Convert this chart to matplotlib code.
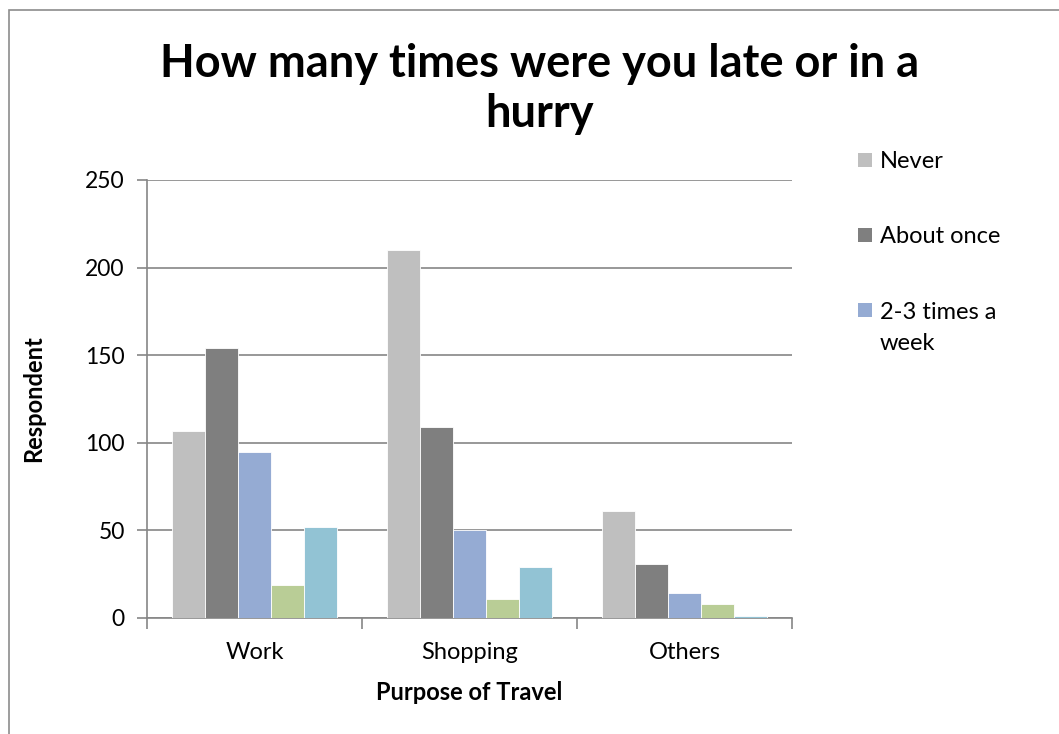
import matplotlib.pyplot as plt
from matplotlib.patches import Rectangle
import numpy as np

plt.rcParams['font.family'] = ['Lato', 'DejaVu Sans']

categories = ["Work", "Shopping", "Others"]
never = [107, 210, 61]
about_once = [154, 109, 31]
two_three_week = [95, 50, 14]
series_4 = [19, 11, 8]
series_5 = [52, 29, 1]

series = [never, about_once, two_three_week, series_4, series_5]
colors = ["#bfbfbf", "#7f7f7f", "#95abd3", "#b9cd96", "#92c3d4"]
legend_labels = ["Never", "About once", "2-3 times a\nweek"]

W, H = 1059, 734
fig = plt.figure(figsize=(W / 100, H / 100), dpi=100)
ax = fig.add_axes([147 / W, 1 - 618 / H, 645 / W, 438 / H])

# chart border (only top and left visible, rest is cropped)
fig.patches.append(Rectangle((9 / W, -0.1), 1.2, 1 - 10 / H + 0.1,
                             transform=fig.transFigure, fill=False,
                             edgecolor="#8c8c8c", linewidth=1.2))

x = np.arange(len(categories))
width = 0.154
for i, vals in enumerate(series):
    ax.bar(x + (i - 2) * width, vals, width, color=colors[i],
           edgecolor="white", linewidth=0.6, zorder=3)

ax.set_xlim(-0.5, 2.5)
ax.set_ylim(0, 250)
ax.set_yticks(range(0, 251, 50))
ax.grid(axis="y", color="#868686", linewidth=1.2, zorder=0)

ax.set_xticks(x)
ax.set_xticklabels(categories, fontsize=17)
ax.set_xticks([-0.5, 0.5, 1.5, 2.5], minor=True)
ax.tick_params(axis="x", which="major", length=0, pad=17)
ax.tick_params(axis="x", which="minor", length=8, color="#868686", width=1.2)
ax.tick_params(axis="y", length=7, color="#868686", width=1.2, labelsize=16.5, pad=9)

for s in ["top", "right"]:
    ax.spines[s].set_visible(False)
for s in ["left", "bottom"]:
    ax.spines[s].set_color("#868686")
    ax.spines[s].set_linewidth(1.2)

ax.set_ylabel("Respondent", fontsize=17, fontweight="bold", labelpad=29)
ax.set_xlabel("Purpose of Travel", fontsize=17, fontweight="bold", labelpad=13)

# title, two lines
fig.text(540 / W, 1 - 77 / H, "How many times were you late or in a",
         ha="center", va="baseline", fontsize=32.5, fontweight="bold")
fig.text(540 / W, 1 - 127 / H, "hurry",
         ha="center", va="baseline", fontsize=32.5, fontweight="bold")

# legend (only first three entries are visible in the original)
legend_y = [160, 235, 310]
for i, lab in enumerate(legend_labels):
    yc = legend_y[i]
    fig.patches.append(Rectangle((858 / W, 1 - (yc + 7) / H), 14 / W, 14 / H,
                                 transform=fig.transFigure, facecolor=colors[i],
                                 edgecolor="none"))
    for j, line in enumerate(lab.split("\n")):
        fig.text(880 / W, 1 - (yc + 2 + 31 * j) / H, line, ha="left", va="center",
                 fontsize=17)

fig.savefig("out.png", dpi=100)
